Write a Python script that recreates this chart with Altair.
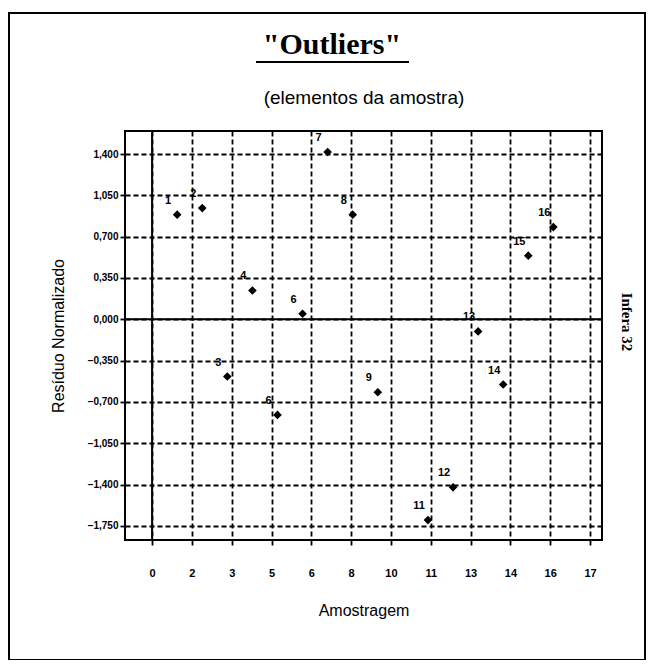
import altair as alt
import pandas as pd

# ---- data ----
sample = [1, 2, 3, 4, 5, 6, 7, 8, 9, 11, 12, 13, 14, 15, 16]
residual = [0.886, 0.942, -0.485, 0.244, -0.810, 0.047, 1.417, 0.886,
            -0.618, -1.701, -1.424, -0.103, -0.553, 0.539, 0.781]
point_labels = ["1", "2", "3", "4", "6", "6", "7", "8", "9",
                "11", "12", "13", "14", "15", "16"]
y_ticks = [-1.75, -1.4, -1.05, -0.7, -0.35, 0.0, 0.35, 0.7, 1.05, 1.4]
x_tick_labels = ["0", "2", "3", "5", "6", "8", "10", "11", "13", "14", "16", "17"]
x_step = 1.5875
x_ticks = [i * x_step for i in range(len(x_tick_labels))]

title_text = '"Outliers"'
subtitle_text = "(elementos da amostra)"
side_text = "Infera 32"
x_title = "Amostragem"
y_title = "Resíduo Normalizado"

W, H = 477, 409
PAD = {"left": 117, "top": 123, "right": 44, "bottom": 120}

df = pd.DataFrame({"x": sample, "y": residual, "lab": point_labels})
one = pd.DataFrame({"a": [0]})

xscale = alt.Scale(domain=[-1.08, 17.94], nice=False, zero=False)
yscale = alt.Scale(domain=[-1.87, 1.595], nice=False, zero=False)

lab_arr = "[" + ",".join("'%s'" % s for s in x_tick_labels) + "]"

xaxis = alt.Axis(
    values=x_ticks,
    labelExpr=f"{lab_arr}[round(datum.value / {x_step})]",
    grid=True, gridColor="black", gridDash=[5, 3], gridWidth=1.8, gridOpacity=1,
    domain=False, ticks=True, tickColor="black", tickSize=5, tickWidth=1.8,
    labelFont="Liberation Sans", labelFontSize=11, labelFontWeight="bold",
    labelColor="black", labelPadding=22,
    title=x_title, titleFont="Liberation Sans", titleFontSize=16,
    titleFontWeight="normal", titleColor="black", titlePadding=24,
)
yaxis = alt.Axis(
    values=y_ticks,
    labelExpr="replace(format(datum.value, '.3f'), '.', ',')",
    grid=True, gridColor="black", gridDash=[5, 3], gridWidth=1.8, gridOpacity=1,
    domain=False, ticks=True, tickColor="black", tickSize=5, tickWidth=1.8,
    labelFont="Liberation Sans", labelFontSize=10, labelFontWeight="bold",
    labelColor="black", labelPadding=2,
    title=y_title, titleFont="Liberation Sans", titleFontSize=16,
    titleFontWeight="normal", titleColor="black", titlePadding=21,
)

base = alt.Chart(df)

pts = base.mark_point(shape="diamond", filled=True, size=75, color="black", opacity=1).encode(
    x=alt.X("x:Q", scale=xscale, axis=xaxis),
    y=alt.Y("y:Q", scale=yscale, axis=yaxis),
)
labels = base.mark_text(font="Liberation Sans", fontSize=11, fontWeight="bold",
                        color="black", dx=-9, dy=-14).encode(
    x=alt.X("x:Q", scale=xscale),
    y=alt.Y("y:Q", scale=yscale),
    text="lab:N",
)

zero_v = alt.Chart(one).mark_rule(color="black", strokeWidth=2).encode(x=alt.datum(0))
zero_h = alt.Chart(one).mark_rule(color="black", strokeWidth=2).encode(y=alt.datum(0))

title = alt.Chart(one).mark_text(font="Liberation Serif", fontSize=30, fontWeight="bold",
                                 color="black", baseline="alphabetic", align="center").encode(
    x=alt.value(207), y=alt.value(-77), text=alt.value(title_text))
underline = alt.Chart(one).mark_rule(color="black", strokeWidth=2).encode(
    x=alt.value(131), x2=alt.value(284), y=alt.value(-69))
subtitle = alt.Chart(one).mark_text(font="Liberation Sans", fontSize=19, color="black",
                                    baseline="middle", align="center").encode(
    x=alt.value(239), y=alt.value(-33), text=alt.value(subtitle_text))
side = alt.Chart(one).mark_text(font="Liberation Serif", fontSize=15, fontWeight="bold",
                                color="black", baseline="middle", align="center", angle=90).encode(
    x=alt.value(502), y=alt.value(191), text=alt.value(side_text))
frame = alt.Chart(one).mark_rect(fillOpacity=0, stroke="black", strokeWidth=2).encode(
    x=alt.value(-116), x2=alt.value(520), y=alt.value(-118), y2=alt.value(529))

chart = alt.layer(zero_v, zero_h, pts, labels, title, underline, subtitle, side, frame).properties(
    width=W, height=H, padding=PAD,
    autosize=alt.AutoSizeParams(type="none"),
).configure(background="white").configure_view(stroke="black", strokeWidth=2)

chart.save("out.html", embed_options={"renderer": "svg", "actions": False})
